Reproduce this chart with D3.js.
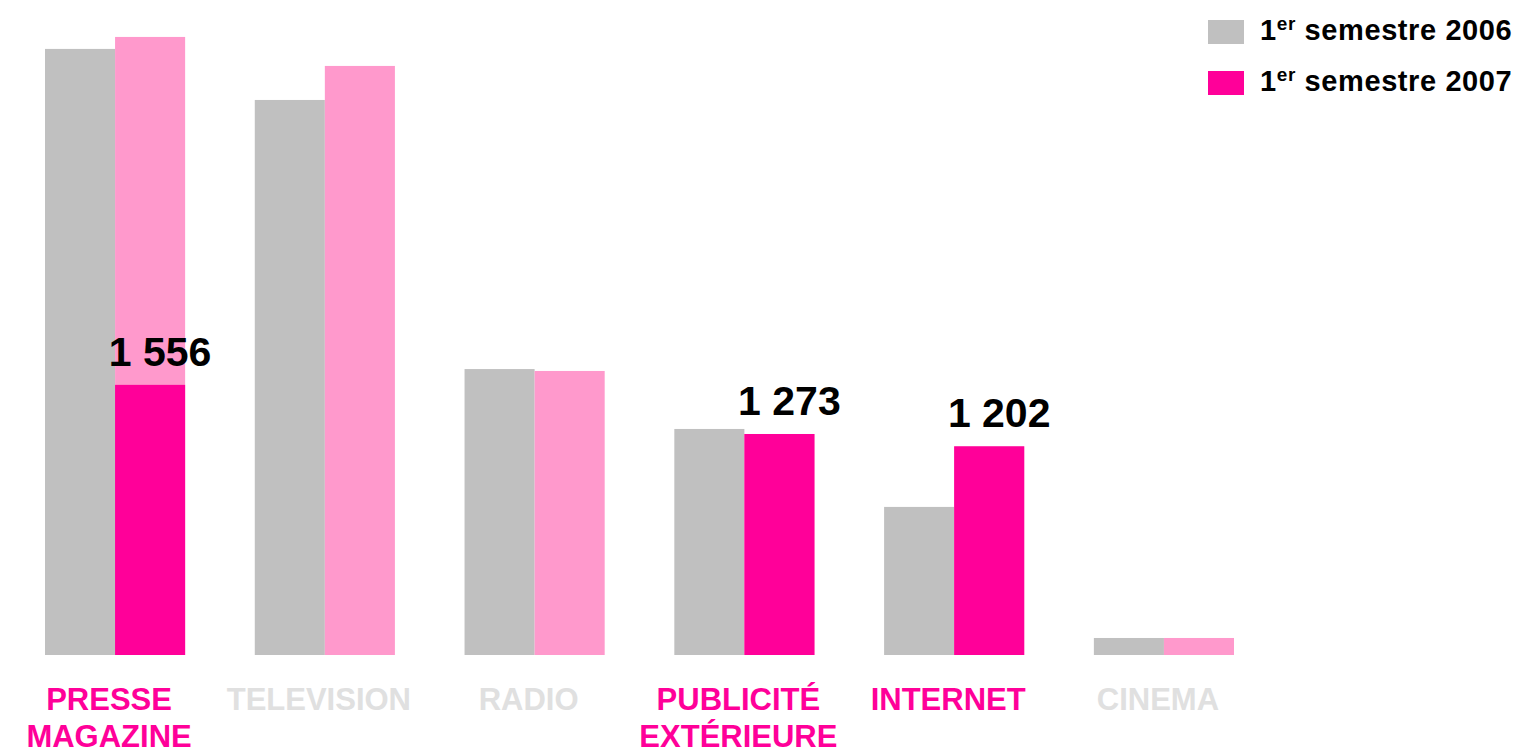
<!DOCTYPE html>
<html>
<head>
<meta charset="utf-8">
<script src="https://cdn.jsdelivr.net/npm/d3@7"></script>
<style>
  html, body { margin: 0; padding: 0; background: #ffffff; }
  svg { display: block; }
  text { font-family: "Liberation Sans", Arial, sans-serif; font-weight: bold; }
</style>
</head>
<body>
<svg id="chart" width="1530" height="754"></svg>
<script>
// Media categories (label lines)
const categories = [
  ["PRESSE", "MAGAZINE"],
  ["TELEVISION"],
  ["RADIO"],
  ["PUBLICITÉ", "EXTÉRIEURE"],
  ["INTERNET"],
  ["CINEMA"]
];
const categoryKeys = ["presse", "tv", "radio", "pubext", "internet", "cinema"];

// Spend per semester (M€)
const s2006 = [3491, 3197, 1647, 1302, 853, 98];
const s2007 = [3560, 3393, 1636, 1273, 1202, 98];

// Highlighted 2007 values (null = not highlighted)
const highlight2007 = [1556, null, null, 1273, 1202, null];

const seriesNames = ["2006", "2007"];
const legendLabels = [["1", "er", " semestre 2006"], ["1", "er", " semestre 2007"]];

const GREY = "#c0c0c0";
const PINK = "#ff0099";
const PINK_LIGHT = "#ff99cc";
const LABEL_GREY = "#e0e0e0";

const svg = d3.select("#chart");

const x = d3.scaleBand()
  .domain(categoryKeys)
  .range([45, 1234])
  .paddingInner(0.332)
  .paddingOuter(0);

const xs = d3.scaleBand()
  .domain(seriesNames)
  .range([0, x.bandwidth()])
  .padding(0);

const y = d3.scaleLinear()
  .domain([0, 3600])
  .range([655, 30]);

const rows = categoryKeys.map((k, i) => ({
  key: k,
  lines: categories[i],
  v2006: s2006[i],
  v2007: s2007[i],
  hi: highlight2007[i]
}));

const groups = svg.append("g").selectAll("g")
  .data(rows)
  .join("g")
  .attr("transform", d => `translate(${x(d.key)},0)`);

// 2006 bars
groups.append("rect")
  .attr("x", xs("2006"))
  .attr("width", xs.bandwidth())
  .attr("y", d => y(d.v2006))
  .attr("height", d => y(0) - y(d.v2006))
  .attr("fill", GREY);

// 2007 bars
groups.append("rect")
  .attr("x", xs("2007"))
  .attr("width", xs.bandwidth())
  .attr("y", d => y(d.v2007))
  .attr("height", d => y(0) - y(d.v2007))
  .attr("fill", PINK_LIGHT);

// Highlighted 2007 bars
const hiGroups = groups.filter(d => d.hi != null);
hiGroups.append("rect")
  .attr("x", xs("2007"))
  .attr("width", xs.bandwidth())
  .attr("y", d => y(d.hi))
  .attr("height", d => y(0) - y(d.hi))
  .attr("fill", PINK);

const fmt = v => d3.format(",")(v).replace(/,/g, " ");

hiGroups.append("text")
  .attr("x", xs("2007") + xs.bandwidth() / 2 + 10)
  .attr("y", d => y(d.hi) - 19)
  .attr("text-anchor", "middle")
  .attr("font-size", 41)
  .attr("fill", "#000")
  .text(d => fmt(d.hi));

// Category labels
groups.append("text")
  .attr("text-anchor", "middle")
  .attr("font-size", 31)
  .attr("fill", d => d.hi != null ? PINK : LABEL_GREY)
  .selectAll("tspan")
  .data(d => d.lines)
  .join("tspan")
  .attr("x", x.bandwidth() / 2 - 6)
  .attr("y", (d, i) => 710 + i * 37)
  .text(d => d);

// Legend
const legend = svg.append("g")
  .selectAll("g")
  .data(seriesNames)
  .join("g")
  .attr("transform", (d, i) => `translate(1208,${20 + i * 51})`);

legend.append("rect")
  .attr("width", 36)
  .attr("height", 24)
  .attr("fill", (d, i) => i === 0 ? GREY : PINK);

const lt = legend.append("text")
  .attr("x", 52)
  .attr("y", 20)
  .attr("font-size", 29)
  .attr("letter-spacing", 0.6)
  .attr("fill", "#000");
lt.append("tspan").text((d, i) => legendLabels[i][0]);
lt.append("tspan").attr("dy", -10).attr("font-size", 19).text((d, i) => legendLabels[i][1]);
lt.append("tspan").attr("dy", 10).text((d, i) => legendLabels[i][2]);
</script>
</body>
</html>
